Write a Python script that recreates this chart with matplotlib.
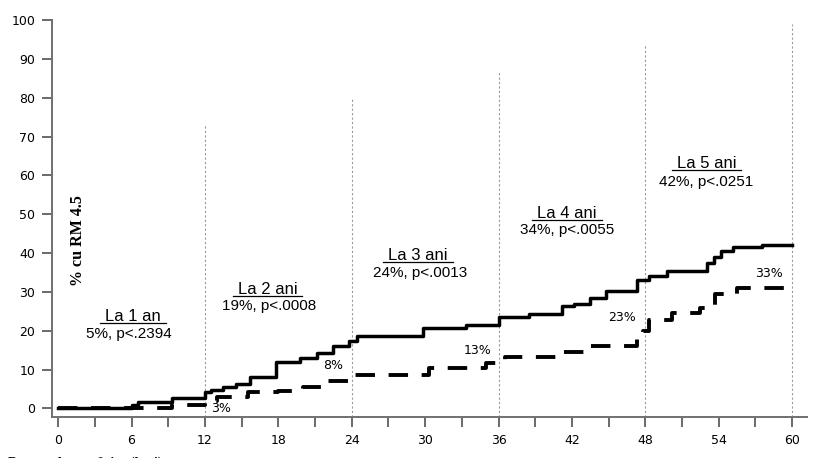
import matplotlib
matplotlib.use("Agg")
import matplotlib.pyplot as plt
from matplotlib.lines import Line2D

# step curves (months, % with RM 4.5)
solid_x = [0, 6, 6.5, 9.3, 12, 12.5, 13.5, 14.5, 15.7, 17.8, 19.8, 21.2, 22.5, 23.8,
           24.4, 29.8, 33.3, 36, 38.5, 41.2, 42.2, 43.5, 44.8, 47.3, 48.3, 49.8, 53,
           53.6, 54.2, 55.2, 57.5, 60]
solid_y = [0, 0.8, 1.6, 2.8, 4.2, 4.8, 5.5, 6.4, 8, 12, 12.9, 14.2, 16, 17.5,
           18.6, 20.6, 21.5, 23.5, 24.3, 26.5, 27, 28.5, 30.2, 33, 34, 35.5, 37.5,
           39, 40.5, 41.5, 42, 42]

dash_x = [0, 9.3, 12, 13, 15.5, 18, 20, 21.8, 23.8, 30.3, 35, 36.5, 41, 43.5, 47.3,
          47.8, 48.3, 50.2, 52.5, 53.7, 55.5, 59.3]
dash_y = [0, 0.8, 2, 2.9, 4.2, 4.6, 5.6, 7.2, 8.7, 10.3, 11.8, 13.2, 14.5, 16, 18,
          20, 22.7, 24.5, 25.8, 29.6, 31, 31]

year_months = [12, 24, 36, 48, 60]
year_tops = [73, 80, 87, 93.5, 99]

titles = ["La 1 an", "La 2 ani", "La 3 ani", "La 4 ani", "La 5 ani"]
stats = ["5%, p<.2394", "19%, p<.0008", "24%, p<.0013", "34%, p<.0055", "42%, p<.0251"]
title_pos = [(6.1, 23.7), (17.1, 30.7), (29.4, 39.4), (41.6, 50.3), (53.0, 63.1)]
stat_pos = [(5.8, 19.3), (17.25, 26.3), (29.6, 35.0), (41.6, 45.9), (53.0, 58.2)]

pct_labels = ["3%", "8%", "13%", "23%", "33%"]
pct_pos = [(13.3, 0), (22.5, 11.1), (34.3, 15.0), (46.1, 23.5), (58.1, 34.8)]

fig = plt.figure(figsize=(8.2, 4.58), dpi=100)
ax = fig.add_axes([0.0634, 0.0895, 0.9206, 0.8665])

ylo = -2.2
ax.vlines(year_months, ylo, year_tops, colors='#9a9a9a', linestyles=(0, (2, 2)), lw=0.8)

ax.step(solid_x, solid_y, where='post', color='black', lw=2.5)
ax.step(dash_x, dash_y, where='post', color='black', lw=2.8, linestyle=(0, (5, 3.5)))

title_texts = []
for t, p in zip(titles, title_pos):
    title_texts.append(ax.text(p[0], p[1], t, ha='center', va='center', fontsize=12,
                               family='Liberation Sans'))
for s, p in zip(stats, stat_pos):
    ax.text(p[0], p[1], s, ha='center', va='center', fontsize=11,
            family='Liberation Sans')
for s, p in zip(pct_labels, pct_pos):
    ax.text(p[0], p[1], s, ha='center', va='center', fontsize=9, family='DejaVu Sans')

ax.text(1.6, 43.3, "% cu RM 4.5", rotation=90, ha='center', va='center',
        fontsize=11.5, fontweight='bold', family='Liberation Serif')

ax.set_xlim(-0.5, 61.2)
ax.set_ylim(ylo, 100)
ax.set_xticks(range(0, 61, 3))
ax.set_xticklabels([str(m) if m % 6 == 0 else "" for m in range(0, 61, 3)])
ax.set_yticks(range(0, 101, 10))

for s in ['top', 'right']:
    ax.spines[s].set_visible(False)
for s in ['left', 'bottom']:
    ax.spines[s].set_color('#707070')
    ax.spines[s].set_linewidth(1.4)
ax.tick_params(axis='both', direction='out', length=7, width=1.2, color='#505050',
               labelsize=9, pad=5)

fig.text(0.01, 0.004, "Durata de urmărire (luni)", ha='left', va='top',
         fontsize=10, fontweight='bold', family='Liberation Serif')

# underline the year titles
fig.canvas.draw()
r = fig.canvas.get_renderer()
W, H = fig.bbox.width, fig.bbox.height
for t in title_texts:
    bb = t.get_window_extent(r)
    yline = (bb.y0 + 1) / H
    fig.add_artist(Line2D([(bb.x0 - 5) / W, (bb.x1 + 5) / W], [yline, yline],
                          color='black', lw=0.9))

fig.savefig("out.png", dpi=100)
